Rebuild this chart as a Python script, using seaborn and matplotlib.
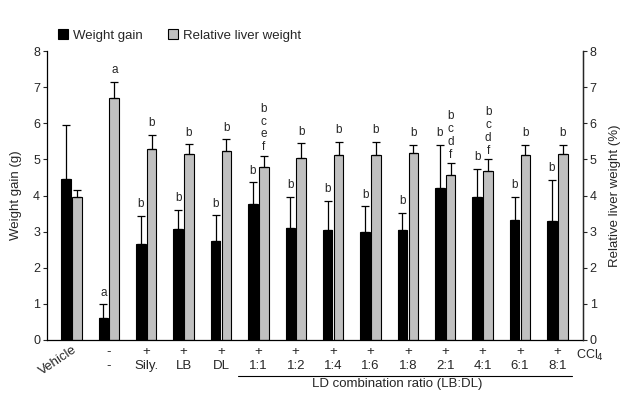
import numpy as np
import pandas as pd
import matplotlib
matplotlib.use("Agg")
import matplotlib.pyplot as plt
import matplotlib.transforms as mtransforms
from matplotlib.patches import Patch
import seaborn as sns

# ---------------- data ----------------
groups = ["Vehicle", "CCl4", "Sily.", "LB", "DL", "1:1", "1:2", "1:4", "1:6",
          "1:8", "2:1", "4:1", "6:1", "8:1"]
ccl4_row = ["", "-", "+", "+", "+", "+", "+", "+", "+", "+", "+", "+", "+", "+"]
treat_row = ["", "-", "Sily.", "LB", "DL", "1:1", "1:2", "1:4", "1:6", "1:8",
             "2:1", "4:1", "6:1", "8:1"]

weight_gain = [4.46, 0.62, 2.67, 3.07, 2.75, 3.77, 3.10, 3.05, 3.00, 3.05,
               4.20, 3.97, 3.31, 3.29]
weight_gain_err = [1.50, 0.37, 0.77, 0.53, 0.70, 0.60, 0.86, 0.80, 0.70, 0.47,
                   1.20, 0.77, 0.65, 1.15]
liver_weight = [3.97, 6.71, 5.30, 5.16, 5.24, 4.79, 5.05, 5.11, 5.11, 5.19,
                4.56, 4.69, 5.11, 5.14]
liver_weight_err = [0.17, 0.44, 0.38, 0.26, 0.32, 0.30, 0.39, 0.38, 0.38, 0.22,
                    0.33, 0.31, 0.30, 0.27]

wg_letters = ["", "a", "b", "b", "b", "b", "b", "b", "b", "b", "b", "b", "b", "b"]
lw_letters = ["", "a", "b", "b", "b", "b\nc\ne\nf", "b", "b", "b", "b",
              "b\nc\nd\nf", "b\nc\nd\nf", "b", "b"]

series_names = ["Weight gain", "Relative liver weight"]
colors = ["#000000", "#c0c0c0"]

# ---------------- figure ----------------
sns.set_theme(style="ticks")
plt.rcParams["font.family"] = ["Liberation Sans", "DejaVu Sans"]
TXT = "#262626"
FS = 9.5
FT = 9
FL = 8.5

fig = plt.figure(figsize=(6.24, 4.05), dpi=100)
ax = fig.add_axes([0.0753, 0.1605, 0.934 - 0.0753, 0.874 - 0.1605])

df = pd.DataFrame({
    "group": groups * 2,
    "series": [series_names[0]] * len(groups) + [series_names[1]] * len(groups),
    "value": weight_gain + liver_weight,
})

sns.barplot(data=df, x="group", y="value", hue="series", order=groups,
            hue_order=series_names, palette=colors, width=0.58, gap=0.12,
            errorbar=None, edgecolor="black", linewidth=0.8, ax=ax, legend=False,
            saturation=1)

x = np.arange(len(groups))
off = 0.145
for vals, errs, letters, dx in [(weight_gain, weight_gain_err, wg_letters, -off),
                                (liver_weight, liver_weight_err, lw_letters, off)]:
    xs = x + dx
    ax.errorbar(xs, vals, yerr=[np.zeros(len(vals)), errs], fmt="none",
                ecolor="black", elinewidth=0.9, capsize=2.6, capthick=0.9)
    for xi, v, e, lab in zip(xs, vals, errs, letters):
        if lab:
            ax.annotate(lab, (xi, v + e), xytext=(0, 2 if "\n" in lab else 4),
                        textcoords="offset points", ha="center", va="bottom",
                        fontsize=FL, color=TXT, linespacing=1.1,
                        multialignment="center")

ax.set_xlim(-0.655, 13.68)
ax.set_ylim(0, 8)
ax.set_yticks(range(0, 9))
ax.set_xticks([])
ax.set_xlabel("")
ax.set_ylabel("Weight gain (g)", fontsize=FS, color=TXT, labelpad=8)
ax.tick_params(axis="y", labelsize=FT, labelcolor=TXT, length=3, width=0.8,
               direction="out", pad=2)
for s in ["left", "right", "bottom"]:
    ax.spines[s].set_linewidth(0.9)
    ax.spines[s].set_color("black")
ax.spines["top"].set_visible(False)

ax2 = ax.twinx()
ax2.set_ylim(0, 8)
ax2.set_yticks(range(0, 9))
ax2.tick_params(axis="y", labelsize=FT, labelcolor=TXT, length=3, width=0.8,
                direction="out", pad=2)
ax2.set_ylabel("Relative liver weight (%)", fontsize=FS, color=TXT, labelpad=9)
ax2.spines["top"].set_visible(False)
ax2.spines["right"].set_linewidth(0.9)
ax2.spines["left"].set_visible(False)
ax2.spines["bottom"].set_visible(False)

# ---------------- x annotations ----------------
trans = mtransforms.blended_transform_factory(ax.transData, ax.transAxes)
for xi, a, b in zip(x, ccl4_row, treat_row):
    if a:
        ax.text(xi, -0.042, a, transform=trans, ha="center", va="center",
                fontsize=FS, color=TXT)
    if b:
        ax.text(xi, -0.089, b, transform=trans, ha="center", va="center",
                fontsize=FS, color=TXT)
ax.text(13.88, -0.054, "CCl$_4$", transform=trans, ha="center", va="center",
        fontsize=9, color=TXT)
ax.text(0.03, -0.012, "Vehicle", transform=trans, ha="right", va="top",
        rotation=34, rotation_mode="anchor", fontsize=FS, color=TXT)
ax.plot([4.45, 13.38], [-0.1235, -0.1235], transform=trans, color="black",
        lw=0.8, clip_on=False)
ax.text((4.45 + 13.38) / 2 - 0.2, -0.153, "LD combination ratio (LB:DL)",
        transform=trans, ha="center", va="center", fontsize=FS, color=TXT)

# ---------------- legend ----------------
handles = [Patch(facecolor=c, edgecolor="black", linewidth=0.8) for c in colors]
fig.legend(handles, series_names, loc="center left",
           bbox_to_anchor=(0.093, 0.912), ncol=2, frameon=False, fontsize=FS,
           handlelength=0.75, handleheight=0.75, handletextpad=0.4,
           columnspacing=1.9, borderpad=0, borderaxespad=0, labelcolor=TXT)

fig.savefig("out.png", dpi=100)
